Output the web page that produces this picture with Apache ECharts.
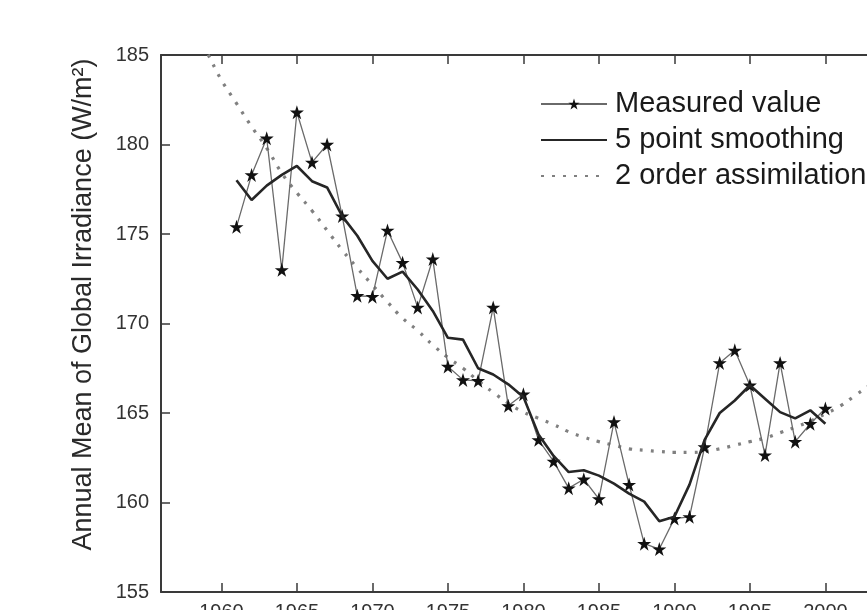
<!DOCTYPE html>
<html>
<head>
<meta charset="utf-8">
<script src="https://cdn.jsdelivr.net/npm/echarts@6/dist/echarts.min.js"></script>
<style>
html,body{margin:0;padding:0;background:#fff;}
#chart{width:867px;height:610px;}
</style>
</head>
<body>
<div id="chart"></div>
<script>
// ---- data ----
const measuredYears = [1961,1962,1963,1964,1965,1966,1967,1968,1969,1970,1971,1972,1973,1974,1975,1976,1977,1978,1979,1980,1981,1982,1983,1984,1985,1986,1987,1988,1989,1990,1991,1992,1993,1994,1995,1996,1997,1998,1999,2000];
const measuredValues = [175.4,178.3,180.35,173.0,181.8,179.0,180.0,176.0,171.55,171.5,175.2,173.4,170.9,173.6,167.6,166.85,166.8,170.9,165.4,166.05,163.5,162.3,160.8,161.3,160.2,164.5,161.0,157.7,157.4,159.1,159.2,163.1,167.8,168.5,166.55,162.65,167.8,163.4,164.4,165.25];
const smoothValues = [178.0,176.9,177.7,178.3,178.8,177.95,177.6,176.0,174.9,173.5,172.5,172.9,171.9,170.7,169.2,169.1,167.5,167.15,166.6,165.9,163.8,162.6,161.7,161.8,161.5,161.05,160.5,160.05,158.95,159.2,161.0,163.5,165.0,165.7,166.55,165.8,165.05,164.7,165.15,164.4];
const fitYears = [1958,1959,1960,1961,1962,1963,1964,1965,1966,1967,1968,1969,1970,1971,1972,1973,1974,1975,1976,1977,1978,1979,1980,1981,1982,1983,1984,1985,1986,1987,1988,1989,1990,1991,1992,1993,1994,1995,1996,1997,1998,1999,2000,2001,2002,2003,2004,2005];
const fitValues = [186.6,185.2,183.6,182.3,181.0,179.8,178.4,177.3,176.3,175.2,174.1,173.1,172.15,171.2,170.3,169.6,168.8,168.1,167.5,166.8,166.15,165.55,165.05,164.7,164.35,163.95,163.65,163.4,163.2,163.0,162.92,162.85,162.8,162.8,162.85,163.0,163.2,163.4,163.6,163.9,164.2,164.55,164.95,165.4,166.0,166.6,167.3,168.0];
const xTickYears = [1960,1965,1970,1975,1980,1985,1990,1995,2000,2005];
const seriesNames = ['Measured value','5 point smoothing','2 order assimilation'];
const yAxisName = 'Annual Mean of Global Irradiance (W/m\u00B2)';

const zip = (xs, ys) => xs.map((x, i) => [x, ys[i]]);
const STAR = 'path://M50,0 L61.2,34.5 L97.6,34.5 L68.2,55.9 L79.4,90.5 L50,69.1 L20.6,90.5 L31.8,55.9 L2.4,34.5 L38.8,34.5 Z';
const FONT = 'Liberation Sans, Arial, Helvetica, sans-serif';

const chart = echarts.init(document.getElementById('chart'), null, {renderer: 'canvas'});
const axisLineStyle = {color: '#3a3a3a', width: 2};
const tickStyle = {color: '#3a3a3a', width: 1.5};

chart.setOption({
  animation: false,
  backgroundColor: '#ffffff',
  textStyle: {fontFamily: FONT},
  grid: {left: 161, top: 55, bottom: 18, right: -49, containLabel: false, outerBoundsMode: 'none'},
  legend: {
    orient: 'vertical',
    left: 535,
    top: 81,
    itemGap: 0,
    itemWidth: 66,
    itemHeight: 14,
    data: seriesNames,
    textStyle: {fontSize: 29, color: '#1a1a1a', lineHeight: 36, fontFamily: FONT, padding: [0,0,0,3]}
  },
  xAxis: [
    {
      type: 'value', min: 1956, max: 2006, position: 'bottom',
      axisLine: {show: true, lineStyle: axisLineStyle},
      axisTick: {show: true, inside: true, length: 9, lineStyle: tickStyle, customValues: xTickYears},
      axisLabel: {show: true, fontSize: 20, color: '#333', margin: 10, fontFamily: FONT,
                  customValues: xTickYears, formatter: v => String(v)},
      splitLine: {show: false}
    },
    {
      type: 'value', min: 1956, max: 2006, position: 'top',
      axisLine: {show: true, lineStyle: axisLineStyle},
      axisTick: {show: true, inside: true, length: 9, lineStyle: tickStyle, customValues: xTickYears},
      axisLabel: {show: false},
      splitLine: {show: false}
    }
  ],
  yAxis: {
    type: 'value', min: 155, max: 185, interval: 5,
    name: yAxisName,
    nameLocation: 'middle',
    nameGap: 64,
    nameTextStyle: {fontSize: 27, color: '#2a2a2a', fontFamily: FONT, padding: [0,0,0,38]},
    axisLine: {show: true, lineStyle: axisLineStyle},
    axisTick: {show: true, inside: true, length: 9, lineStyle: tickStyle},
    axisLabel: {fontSize: 20, color: '#333', margin: 12, fontFamily: FONT},
    splitLine: {show: false}
  },
  series: [
    {
      name: seriesNames[0], type: 'line',
      data: zip(measuredYears, measuredValues),
      symbol: STAR, symbolSize: 14,
      itemStyle: {color: '#111'},
      lineStyle: {color: '#6a6a6a', width: 1.3},
      z: 3
    },
    {
      name: seriesNames[1], type: 'line',
      data: zip(measuredYears, smoothValues),
      showSymbol: false, symbol: 'none',
      itemStyle: {color: '#262626', opacity: 0},
      lineStyle: {color: '#262626', width: 2.6},
      z: 4
    },
    {
      name: seriesNames[2], type: 'line',
      data: zip(fitYears, fitValues),
      showSymbol: false, symbol: 'none', smooth: true,
      itemStyle: {color: '#808080', opacity: 0},
      lineStyle: {color: '#808080', width: 3.2, type: [3, 8], cap: 'butt'},
      z: 2
    }
  ]
});
</script>
</body>
</html>
